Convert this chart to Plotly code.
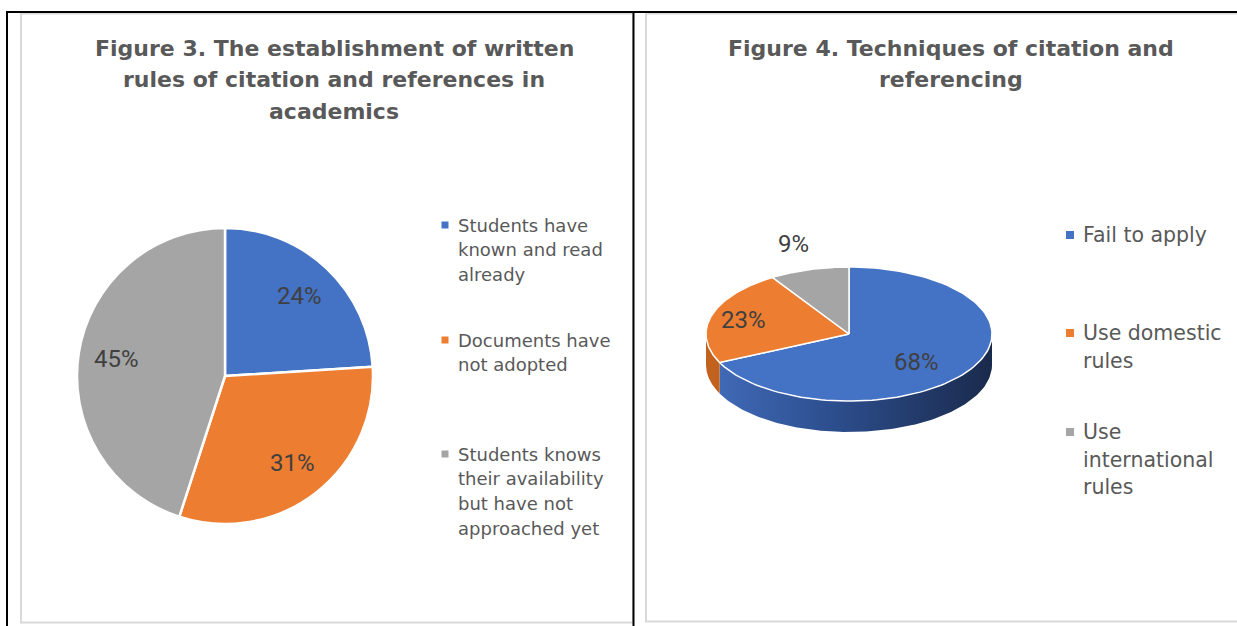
import numpy as np
import plotly.graph_objects as go

W, H = 1237, 626

# ---------------- data ----------------
fig3_title = ["Figure 3. The establishment of written",
              "rules of citation and references in",
              "academics"]
fig3_labels = ["Students have known and read already",
               "Documents have not adopted",
               "Students knows their availability but have not approached yet"]
fig3_legend_lines = [["Students have", "known and read", "already"],
                     ["Documents have", "not adopted"],
                     ["Students knows", "their availability", "but have not", "approached yet"]]
fig3_values = [24, 31, 45]

fig4_title = ["Figure 4. Techniques of citation and", "referencing"]
fig4_labels = ["Fail to apply", "Use domestic rules", "Use international rules"]
fig4_legend_lines = [["Fail to apply"],
                     ["Use domestic", "rules"],
                     ["Use", "international", "rules"]]
fig4_values = [68, 23, 9]

colors = ["#4472C4", "#ED7D31", "#A5A5A5"]

# ---------------- style ----------------
TITLE_COLOR = "#595959"
LEGEND_COLOR = "#595959"
LABEL_COLOR = "#404040"
FONT = "DejaVu Sans"
LABEL_FONT = "Roboto"

fig = go.Figure()

# ---------------- left: flat pie ----------------
p_cx, p_cy, p_r = 225, 376, 148
fig.add_trace(go.Pie(
    labels=fig3_labels, values=fig3_values, sort=False, direction="clockwise",
    rotation=0, marker=dict(colors=colors, line=dict(color="white", width=2.5)),
    textinfo="none", hoverinfo="label+percent", showlegend=False,
    domain=dict(x=[(p_cx - p_r) / W, (p_cx + p_r) / W],
                y=[1 - (p_cy + p_r) / H, 1 - (p_cy - p_r) / H]),
))

annotations = []
tot3 = sum(fig3_values)
cum = 0
for v in fig3_values:
    mid = np.deg2rad((cum + v / 2) / tot3 * 360)
    cum += v
    k = 0.74
    annotations.append(dict(x=p_cx + p_r * k * np.sin(mid), y=p_cy - p_r * k * np.cos(mid),
                            xref="x", yref="y", text=f"{round(v / tot3 * 100)}%", showarrow=False,
                            font=dict(family=LABEL_FONT, size=24, color=LABEL_COLOR)))

# ---------------- right: 3D-looking pie ----------------
cx, cy, rx, ry, depth = 849, 334, 143, 67, 31
tot4 = sum(fig4_values)
bounds = np.cumsum([0] + fig4_values) / tot4 * 360.0


def arc(a0, a1, n=120, dy=0.0):
    t = np.deg2rad(np.linspace(a0, a1, n))
    return cx + rx * np.sin(t), cy - ry * np.cos(t) + dy


wall_fills = [
    dict(fillgradient=dict(type="horizontal",
                           colorscale=[[0, "#4069b6"], [0.4, "#2d4f8f"], [1, "#1a2a4c"]])),
    dict(fillcolor="#c2621f"),
    dict(fillcolor="#7f7f7f"),
]
# side walls (front half: 90..270 deg)
for i in range(len(fig4_values)):
    a0, a1 = max(bounds[i], 90), min(bounds[i + 1], 270)
    if a1 <= a0:
        continue
    xt, yt = arc(a0, a1)
    xb, yb = arc(a1, a0, dy=depth)
    xs = np.concatenate([xt, xb, xt[:1]])
    ys = np.concatenate([yt, yb, yt[:1]])
    fig.add_trace(go.Scatter(x=xs, y=ys, mode="lines", fill="toself",
                             line=dict(width=0), hoverinfo="skip", showlegend=False,
                             **wall_fills[i]))
# top faces
for i in range(len(fig4_values)):
    xa, ya = arc(bounds[i], bounds[i + 1])
    xs = np.concatenate([[cx], xa, [cx]])
    ys = np.concatenate([[cy], ya, [cy]])
    fig.add_trace(go.Scatter(x=xs, y=ys, mode="lines", fill="toself", fillcolor=colors[i],
                             line=dict(color="white", width=1.5), name=fig4_labels[i],
                             hoverinfo="name", showlegend=False))

label_k = [0.56, 0.77, 1.4]
label_dy = [8, 0, 0]
for i, v in enumerate(fig4_values):
    mid = np.deg2rad((bounds[i] + bounds[i + 1]) / 2)
    annotations.append(dict(x=cx + rx * label_k[i] * np.sin(mid),
                            y=cy - ry * label_k[i] * np.cos(mid) + label_dy[i],
                            xref="x", yref="y", text=f"{round(v / tot4 * 100)}%", showarrow=False,
                            font=dict(family=LABEL_FONT, size=24, color=LABEL_COLOR)))

# ---------------- titles ----------------
for j, line in enumerate(fig3_title):
    annotations.append(dict(x=334, y=48 + j * 31.5, xref="x", yref="y", text=f"<b>{line}</b>",
                            showarrow=False, font=dict(family=FONT, size=22, color=TITLE_COLOR)))
for j, line in enumerate(fig4_title):
    annotations.append(dict(x=951, y=48 + j * 31.5, xref="x", yref="y", text=f"<b>{line}</b>",
                            showarrow=False, font=dict(family=FONT, size=22, color=TITLE_COLOR)))

# ---------------- legends ----------------
shapes = []


def legend(entries, starts, x_mark, x_text, spacing, size, msize):
    for i, lines in enumerate(entries):
        y0 = starts[i]
        shapes.append(dict(type="rect", xref="x", yref="y",
                           x0=x_mark - msize / 2, x1=x_mark + msize / 2,
                           y0=y0 - msize / 2, y1=y0 + msize / 2,
                           fillcolor=colors[i], line=dict(width=0)))
        for j, t in enumerate(lines):
            annotations.append(dict(x=x_text, y=y0 + j * spacing, xref="x", yref="y", text=t,
                                    xanchor="left", yanchor="middle", showarrow=False,
                                    font=dict(family=FONT, size=size, color=LEGEND_COLOR)))


legend(fig3_legend_lines, [225, 340, 454], 445, 456, 24.8, 18, 7)
legend(fig4_legend_lines, [235, 333, 432], 1070, 1081, 27.7, 20.5, 8)

# ---------------- frame lines ----------------
GRAY = "#d9d9d9"
shapes += [
    # gray chart borders
    dict(type="rect", xref="x", yref="y", x0=21, x1=633, y0=13.5, y1=622.5,
         line=dict(color=GRAY, width=2), layer="below"),
    dict(type="rect", xref="x", yref="y", x0=646, x1=1245, y0=13.5, y1=621.5,
         line=dict(color=GRAY, width=2), layer="below"),
    # black table lines
    dict(type="line", xref="x", yref="y", x0=6.5, x1=1240, y0=12, y1=12,
         line=dict(color="black", width=2)),
    dict(type="line", xref="x", yref="y", x0=7, x1=7, y0=11, y1=630,
         line=dict(color="black", width=2)),
    dict(type="line", xref="x", yref="y", x0=633.5, x1=633.5, y0=11, y1=630,
         line=dict(color="black", width=2)),
]

fig.update_layout(
    width=W, height=H, margin=dict(l=0, r=0, t=0, b=0),
    paper_bgcolor="white", plot_bgcolor="white",
    xaxis=dict(range=[0, W], visible=False, domain=[0, 1], fixedrange=True),
    yaxis=dict(range=[H, 0], visible=False, domain=[0, 1], fixedrange=True),
    annotations=annotations, shapes=shapes, showlegend=False,
)

fig.write_html("out.html", config=dict(displayModeBar=False),
               post_script="document.body.style.margin='0px';document.body.style.overflow='hidden';")
